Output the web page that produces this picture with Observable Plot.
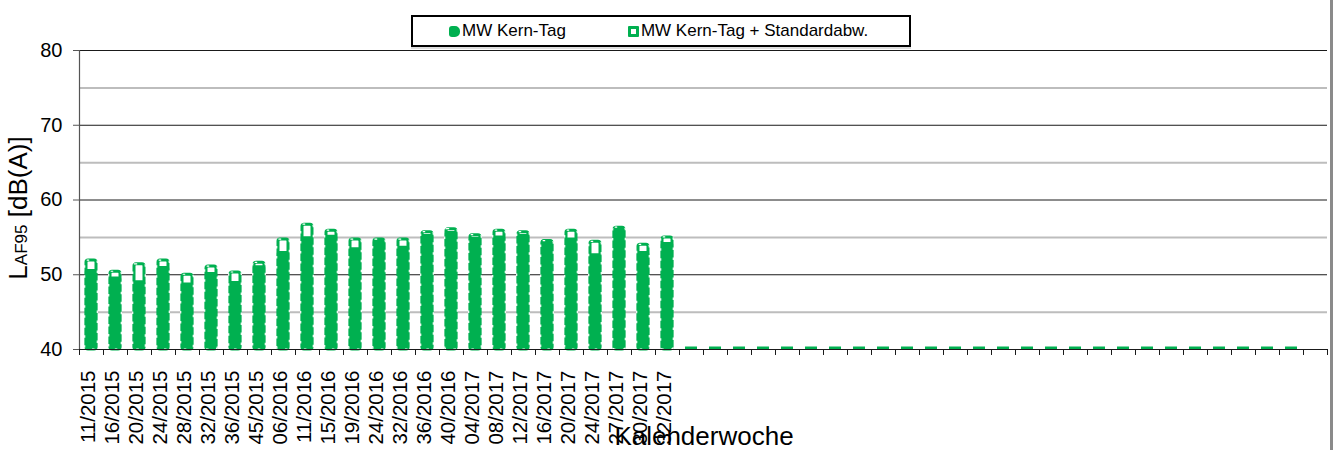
<!DOCTYPE html>
<html><head><meta charset="utf-8">
<script src="https://cdn.jsdelivr.net/npm/d3@7"></script>
<script src="https://cdn.jsdelivr.net/npm/@observablehq/plot@0.6"></script>
<style>
body{margin:0;background:#fff;font-family:"Liberation Sans",Arial,sans-serif;}
#wrap{position:relative;width:1335px;height:450px;overflow:hidden;background:#fff;}
#legend{position:absolute;left:411px;top:15px;width:500px;height:32px;box-sizing:border-box;border:2px solid #000;background:#fff;display:flex;align-items:center;padding-left:36px;font-size:17px;color:#000;box-shadow:0 2px 0 #ddd;}
.item{display:flex;align-items:center;}
.m1{width:11px;height:11px;background:#00B050;border-radius:3px 5px 5px 3px;margin-right:2px;}
.m2{width:11px;height:11px;background:#00B050;margin-right:2px;position:relative;border-radius:1px;}
.m2::after{content:"";position:absolute;left:3px;top:3px;width:5px;height:5px;background:#fff;}
#rborder{position:absolute;left:1330px;top:0;width:3px;height:450px;background:#8a8a8a;}
</style></head>
<body><div id="wrap">
<div id="chart"></div>
<div id="legend"><div class="item"><span class="m1"></span>MW Kern-Tag</div><div class="item" style="margin-left:62px"><span class="m2"></span>MW Kern-Tag + Standardabw.</div></div>
<div id="rborder"></div>
</div>
<script>
const weeks = ["11/2015","16/2015","20/2015","24/2015","28/2015","32/2015","36/2015","45/2015","06/2016","11/2016","15/2016","19/2016","24/2016","32/2016","36/2016","40/2016","04/2017","08/2017","12/2017","16/2017","20/2017","24/2017","27/2017","30/2017","32/2017"];
const mwKernTag = [50.6,49.6,49.1,51.0,48.8,50.2,49.0,51.1,53.0,55.0,55.2,53.5,54.5,53.7,55.3,55.7,54.9,55.1,55.3,54.5,54.8,52.7,56.3,53.0,54.2];
const mwPlusSd = [51.9,50.4,51.4,51.9,50.0,51.1,50.3,51.6,54.7,56.7,55.9,54.7,54.7,54.7,55.7,56.1,55.3,55.9,55.7,54.5,55.9,54.4,56.3,54.0,55.0];
// following weeks without measurement (value 0, shown at axis base)
const emptyWeekValues = [0,0,0,0,0,0,0,0,0,0,0,0,0,0,0,0,0,0,0,0,0,0,0,0,0,0];
const slotCount = 52;
const yTicksMajor = [40,50,60,70,80];
const yTicksMinor = [45,55,65,75];
const yMin = 40, yMax = 80;
const green = "#00B050";

const slots = d3.range(slotCount);
const bars = weeks.map((w,i)=>({slot:i, week:w, mw:mwKernTag[i], sd:mwPlusSd[i]}));
const empties = emptyWeekValues.map((v,i)=>({slot:weeks.length+i, value:v}));

const chart = Plot.plot({
  width:1335, height:450,
  marginTop:50, marginBottom:101, marginLeft:79, marginRight:8,
  style:{fontFamily:"'Liberation Sans', Arial, sans-serif", background:"transparent", color:"#000"},
  x:{type:"band", domain:slots, paddingInner:0.5, paddingOuter:0.25, axis:null},
  y:{domain:[yMin,yMax], axis:null},
  marks:[
    Plot.ruleY(yTicksMinor, {stroke:"#bdbdbd", strokeWidth:2}),
    Plot.ruleY(yTicksMajor.filter(d=>d>yMin), {stroke:"#1a1a1a", strokeWidth:1}),
    Plot.rectY(bars, {x:"slot", y1:()=>yMin, y2:"sd", fill:"#fff", stroke:green, strokeWidth:3, rx:2, insetLeft:1, insetRight:1}),
    Plot.rectY(bars, {x:"slot", y1:()=>yMin, y2:"mw", fill:green, stroke:green, strokeWidth:1.5, rx:2, insetLeft:0.5, insetRight:0.5}),
    Plot.rectY(bars, {x:"slot", y1:()=>yMin, y2:"sd", fill:"none", stroke:"#fff", strokeWidth:1.2, strokeDasharray:"2.5 7.5", rx:2, insetLeft:-0.3, insetRight:-0.3}),
    Plot.tickY(empties, {x:"slot", y:d=>Math.max(d.value,yMin), stroke:green, strokeWidth:3, dy:-1.5, insetLeft:0, insetRight:0}),
    Plot.ruleY([yMin], {stroke:"#1a1a1a", strokeWidth:1.2}),
    Plot.ruleX([slots[0]], {x:d=>d, dx:-12, y1:yMin, y2:yMax, stroke:"#555", strokeWidth:1.2}),
    Plot.ruleX(slots, {x:d=>d, dx:-12, y1:yMin, y2:yMin-0.8, stroke:"#1a1a1a"}),
    Plot.ruleX([slots[slots.length-1]], {x:d=>d, dx:12, y1:yMin, y2:yMin-0.8, stroke:"#1a1a1a"}),
    Plot.axisY({ticks:yTicksMajor, tickSize:6, tickPadding:11, fontSize:20, stroke:"#555", label:null, tickFormat:d=>String(d)}),
    Plot.axisX({tickSize:0, tickRotate:-90, tickPadding:21, fontSize:20.5, label:null, dx:-3, tickFormat:i=>weeks[i] ?? ""})
  ]
});
document.getElementById("chart").appendChild(chart);

const svg = d3.select(chart);
const yl = svg.append("text")
  .attr("transform","translate(27,208) rotate(-90)")
  .attr("text-anchor","middle")
  .attr("font-family","'Liberation Sans', Arial, sans-serif")
  .attr("fill","#000");
yl.append("tspan").attr("font-size",26).text("L");
yl.append("tspan").attr("font-size",17).text("AF95");
yl.append("tspan").attr("font-size",26).text(" [dB(A)]");
svg.append("text")
  .attr("x",704).attr("y",445)
  .attr("text-anchor","middle")
  .attr("font-size",26)
  .attr("font-family","'Liberation Sans', Arial, sans-serif")
  .attr("fill","#000")
  .text("Kalenderwoche");
</script>
</body></html>
